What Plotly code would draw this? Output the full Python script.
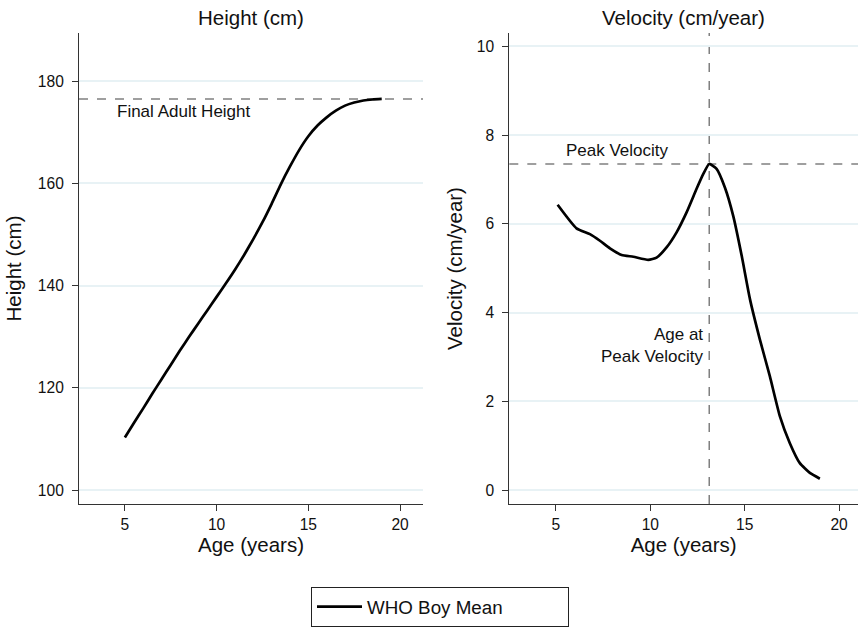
import plotly.graph_objects as go
from plotly.subplots import make_subplots

# ---- data ----
age_h = [5.0, 5.5, 6, 6.5, 7, 7.5, 8, 8.5, 9, 9.5, 10, 10.5, 11, 11.5, 12, 12.5, 13, 13.5, 14, 14.5,
         15, 15.5, 16, 16.5, 17, 17.5, 18, 18.5, 19.0]
height = [110.3, 113.2, 116.0, 118.9, 121.7, 124.5, 127.3, 130.0, 132.6, 135.2, 137.8, 140.4, 143.1, 146.0,
          149.1, 152.4, 156.0, 159.8, 163.3, 166.5, 169.2, 171.3, 172.9, 174.2, 175.2, 175.8, 176.2, 176.4, 176.5]

age_v = [5.09, 6.09, 6.80, 7.33, 7.86, 8.48, 9.10, 9.89, 10.33, 10.86, 11.39, 11.92, 12.45, 12.80, 13.12,
         13.51, 13.95, 14.39, 14.84, 15.28, 15.80, 16.33, 16.86, 17.39, 17.92, 18.45, 18.98]
velocity = [6.43, 5.90, 5.77, 5.62, 5.45, 5.30, 5.26, 5.19, 5.24, 5.47, 5.81, 6.26, 6.79, 7.12, 7.35,
            7.24, 6.82, 6.18, 5.28, 4.30, 3.40, 2.57, 1.67, 1.06, 0.61, 0.39, 0.26]

final_height = 176.5
peak_velocity = 7.35
age_at_peak = 13.12

series_name = "WHO Boy Mean"
x_ticks = [5, 10, 15, 20]
h_ticks = [100, 120, 140, 160, 180]
v_ticks = [0, 2, 4, 6, 8, 10]

FONT = "Liberation Sans, Arial, Helvetica, sans-serif"
GRID = "#e8f2f5"
AX = "#333333"
REF = "#808080"
TXT = "#111111"

fig = make_subplots(rows=1, cols=2)

fig.add_trace(go.Scatter(x=age_h, y=height, mode="lines", name=series_name,
                         line=dict(color="black", width=2.7, shape="spline", smoothing=0.5),
                         showlegend=True), row=1, col=1)
fig.add_trace(go.Scatter(x=age_v, y=velocity, mode="lines", name=series_name,
                         line=dict(color="black", width=2.7, shape="spline", smoothing=0.5),
                         showlegend=False), row=1, col=2)

# reference lines
fig.add_shape(type="line", xref="x domain", yref="y", x0=0, x1=1, y0=final_height, y1=final_height,
              line=dict(color=REF, width=1.5, dash="dash"), layer="below")
fig.add_shape(type="line", xref="x2 domain", yref="y2", x0=0, x1=1, y0=peak_velocity, y1=peak_velocity,
              line=dict(color=REF, width=1.5, dash="dash"), layer="below")
fig.add_shape(type="line", xref="x2", yref="y2 domain", x0=age_at_peak, x1=age_at_peak, y0=0, y1=1,
              line=dict(color=REF, width=1.5, dash="dash"), layer="below")

ANN = dict(family=FONT, size=17, color=TXT)
fig.add_annotation(x=4.47, y=final_height, xref="x", yref="y", text="Final Adult Height",
                   showarrow=False, xanchor="left", yanchor="top", yshift=-1, font=ANN)
fig.add_annotation(x=5.45, y=peak_velocity, xref="x2", yref="y2", text="Peak Velocity",
                   showarrow=False, xanchor="left", yanchor="bottom", yshift=2, font=ANN)
fig.add_annotation(x=age_at_peak, y=3.25, xref="x2", yref="y2", text="Age at<br>Peak Velocity",
                   showarrow=False, xanchor="right", yanchor="middle", xshift=-3, align="right", font=ANN)

W, H = 858, 632
xd1 = [79 / W, 423 / W]
xd2 = [509.3 / W, 1.0]
yd = [(H - 504) / H, (H - 33) / H]

axis_common = dict(showline=True, linecolor=AX, linewidth=1, ticks="outside", ticklen=6,
                   tickcolor=AX, tickfont=dict(family=FONT, size=15.6, color=TXT), zeroline=False)
TT = dict(family=FONT, size=20.5, color=TXT)

fig.update_layout(
    width=W, height=H,
    margin=dict(l=0, r=0, t=0, b=0),
    paper_bgcolor="white", plot_bgcolor="white",
    font=dict(family=FONT, color=TXT),
    xaxis=dict(domain=xd1, range=[2.5, 21.25], tickvals=x_ticks, showgrid=False,
               title=dict(text="Age (years)", font=TT, standoff=0), **axis_common),
    yaxis=dict(domain=yd, range=[97.3, 189.4], tickvals=h_ticks, showgrid=True, gridcolor=GRID, gridwidth=1.5,
               ticklabelstandoff=5,
               title=dict(text="Height (cm)", font=TT, standoff=10), **axis_common),
    xaxis2=dict(domain=xd2, range=[2.53, 21.0], tickvals=x_ticks, showgrid=False,
                title=dict(text="Age (years)", font=TT, standoff=0), **axis_common),
    yaxis2=dict(domain=yd, range=[-0.31, 10.3], tickvals=v_ticks, showgrid=True, gridcolor=GRID, gridwidth=1.5,
                ticklabelstandoff=5,
                title=dict(text="Velocity (cm/year)", font=TT, standoff=8), **axis_common),
    legend=dict(orientation="h", x=440 / W, xanchor="center", y=(H - 587) / H, yanchor="top",
                bordercolor="#222", borderwidth=1, entrywidth=196, itemwidth=45,
                font=dict(family=FONT, size=18.8, color=TXT), bgcolor="white"),
    showlegend=True,
)

fig.add_annotation(x=(xd1[0] + xd1[1]) / 2, y=1 - 17 / H, xref="paper", yref="paper", text="Height (cm)",
                   showarrow=False, xanchor="center", yanchor="middle", font=dict(family=FONT, size=20.5, color=TXT))
fig.add_annotation(x=(xd2[0] + xd2[1]) / 2, y=1 - 17 / H, xref="paper", yref="paper", text="Velocity (cm/year)",
                   showarrow=False, xanchor="center", yanchor="middle", font=dict(family=FONT, size=20.5, color=TXT))

fig.write_html("out.html")
